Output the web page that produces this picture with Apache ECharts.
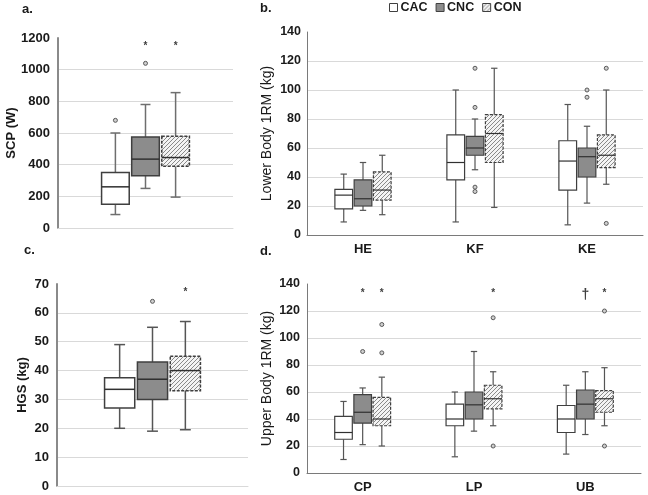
<!DOCTYPE html>
<html><head><meta charset="utf-8">
<script src="https://cdn.jsdelivr.net/npm/echarts@6/dist/echarts.min.js"></script>
<style>html,body{margin:0;padding:0;background:#fff}#c{width:648px;height:495px}</style>
</head><body><div id="c"></div>
<script>
// ---------- DATA ----------
const groups = ['CAC', 'CNC', 'CON'];
// box stats per category: [low whisker, Q1, median, Q3, high whisker]
// Panel a: SCP (W)
const scpCats = [''];
const scpCAC = [[85, 150, 260, 350, 600]];
const scpCNC = [[250, 330, 435, 575, 780]];
const scpCON = [[195, 390, 445, 580, 855]];
const scpOutCAC = [[0, 680]];
const scpOutCNC = [[0, 1040]];
const scpOutCON = [];
const scpStarCNC = [[0, 1160]];
const scpStarCON = [[0, 1160]];
const scpTicks = [0, 1200, 200];

// Panel b: Lower Body 1RM (kg)
const lowerCats = ['HE', 'KF', 'KE'];
const lowerCAC = [[9, 18, 27.5, 31.5, 42], [9, 38, 50, 69, 100], [7, 31, 51, 65, 90]];
const lowerCNC = [[17, 20, 25, 38, 50], [45, 55, 60, 68, 80], [22, 40, 54, 60, 75]];
const lowerCON = [[14, 24, 31, 43.5, 55], [19, 50, 70, 83, 115], [35, 46.5, 55, 69, 100]];
const lowerOutCAC = [];
const lowerOutCNC = [[1, 115], [1, 88], [1, 33], [1, 30], [2, 100], [2, 95]];
const lowerOutCON = [[2, 115], [2, 8]];
const lowerTicks = [0, 140, 20];

// Panel c: HGS (kg)
const hgsCats = [''];
const hgsCAC = [[20, 27, 33.5, 37.5, 49]];
const hgsCNC = [[19, 30, 37, 43, 55]];
const hgsCON = [[19.5, 33, 40, 45, 57]];
const hgsOutCAC = [];
const hgsOutCNC = [[0, 64]];
const hgsOutCON = [];
const hgsStarCON = [[0, 67.8]];
const hgsTicks = [0, 70, 10];

// Panel d: Upper Body 1RM (kg)
const upperCats = ['CP', 'LP', 'UB'];
const upperCAC = [[10, 25, 30, 42, 53], [12, 35, 40, 51, 60], [14, 30, 40, 50, 65]];
const upperCNC = [[21, 37, 45, 58, 63], [31, 40, 50.5, 60, 90], [28.5, 40, 51, 61.5, 75]];
const upperCON = [[20, 35, 40, 56, 71], [35, 47.5, 55, 65, 75], [35, 45, 55, 61, 78]];
const upperOutCAC = [];
const upperOutCNC = [[0, 90]];
const upperOutCON = [[0, 110], [0, 89], [1, 115], [1, 20], [2, 120], [2, 20]];
const upperStarCNC = [[0, 134.5]];
const upperStarCON = [[0, 134.5], [1, 134.5], [2, 134.5]];
const upperDaggerCNC = [[2, 132]];
const upperTicks = [0, 140, 20];

// ---------- STYLE / LAYOUT ----------
const FONT = 'Liberation Sans, Arial, Helvetica, sans-serif';
const OFF = 0.172;   // box offset as fraction of category band
const BW = 0.158;    // box width as fraction of category band

function hatchCanvas() {
  const c = document.createElement('canvas');
  c.width = 4; c.height = 4;
  const x = c.getContext('2d');
  x.fillStyle = '#f4f4f4'; x.fillRect(0, 0, 4, 4);
  x.strokeStyle = '#8a8a8a'; x.lineWidth = 1;
  x.beginPath();
  x.moveTo(0, 4); x.lineTo(4, 0);
  x.moveTo(-1, 1); x.lineTo(1, -1);
  x.moveTo(3, 5); x.lineTo(5, 3);
  x.stroke();
  return c;
}
const hatch = { image: hatchCanvas(), repeat: 'repeat' };
const fills = ['#ffffff', '#8c8c8c', hatch];
const dashes = [null, null, [3, 1.5]];

function boxRender(gi, lw, whiskColor) {
  return function (params, api) {
    const c = api.value(0);
    const band = api.size([1, 0])[0];
    const cx = api.coord([c, 0])[0] + (gi - 1) * band * OFF;
    const w = band * BW, cap = w * 0.36;
    const yLo = api.coord([c, api.value(1)])[1];
    const yQ1 = api.coord([c, api.value(2)])[1];
    const yMed = api.coord([c, api.value(3)])[1];
    const yQ3 = api.coord([c, api.value(4)])[1];
    const yHi = api.coord([c, api.value(5)])[1];
    const ws = { stroke: whiskColor, lineWidth: lw };
    return {
      type: 'group', children: [
        { type: 'line', shape: { x1: cx, y1: yLo, x2: cx, y2: yQ1 }, style: ws },
        { type: 'line', shape: { x1: cx, y1: yQ3, x2: cx, y2: yHi }, style: ws },
        { type: 'line', shape: { x1: cx - cap / 2, y1: yLo, x2: cx + cap / 2, y2: yLo }, style: ws },
        { type: 'line', shape: { x1: cx - cap / 2, y1: yHi, x2: cx + cap / 2, y2: yHi }, style: ws },
        { type: 'rect', shape: { x: cx - w / 2, y: yQ3, width: w, height: yQ1 - yQ3 },
          style: { fill: fills[gi], stroke: '#3f3f3f', lineWidth: lw, lineDash: dashes[gi] } },
        { type: 'line', shape: { x1: cx - w / 2, y1: yMed, x2: cx + w / 2, y2: yMed },
          style: { stroke: '#303030', lineWidth: lw } }
      ]
    };
  };
}
function pointRender(gi) {
  return function (params, api) {
    const band = api.size([1, 0])[0];
    const p = api.coord([api.value(0), api.value(1)]);
    return { type: 'circle', shape: { cx: p[0] + (gi - 1) * band * OFF, cy: p[1], r: 2 },
      style: { fill: '#cfcfcf', stroke: '#5a5a5a', lineWidth: 1 } };
  };
}
function markRender(gi, ch, size, dy) {
  return function (params, api) {
    const band = api.size([1, 0])[0];
    const p = api.coord([api.value(0), api.value(1)]);
    return { type: 'text', x: p[0] + (gi - 1) * band * OFF, y: p[1] + dy,
      style: { text: ch, fill: '#404040', font: 'bold ' + size + 'px ' + FONT, align: 'center', verticalAlign: 'middle' } };
  };
}

const panels = [
  { grid: { left: 58, top: 38, width: 175, height: 190 }, cats: scpCats, ticks: scpTicks,
    boxes: [scpCAC, scpCNC, scpCON], outs: [scpOutCAC, scpOutCNC, scpOutCON],
    name: 'SCP (W)', nameGap: 40, nameBold: true, nameSize: 13, lblSize: 13, lblMargin: 8,
    yLine: { color: '#8a8a8a', width: 2 }, xLine: { color: '#d9d9d9', width: 1 }, lw: 1.5, wc: '#6e6e6e' },
  { grid: { left: 307, top: 32, width: 336, height: 203 }, cats: lowerCats, ticks: lowerTicks,
    boxes: [lowerCAC, lowerCNC, lowerCON], outs: [lowerOutCAC, lowerOutCNC, lowerOutCON],
    name: 'Lower Body 1RM (kg)', nameGap: 33, nameBold: false, nameSize: 14, lblSize: 12.5, lblMargin: 6,
    yLine: { color: '#7a7a7a', width: 1 }, xLine: { color: '#7a7a7a', width: 1 }, lw: 1.2, wc: '#555555' },
  { grid: { left: 57, top: 284, width: 191, height: 202 }, cats: hgsCats, ticks: hgsTicks,
    boxes: [hgsCAC, hgsCNC, hgsCON], outs: [hgsOutCAC, hgsOutCNC, hgsOutCON],
    name: 'HGS (kg)', nameGap: 28, nameBold: true, nameSize: 13, lblSize: 13, lblMargin: 8,
    yLine: { color: '#8a8a8a', width: 2 }, xLine: { color: '#d9d9d9', width: 1 }, lw: 1.5, wc: '#555555' },
  { grid: { left: 307, top: 284, width: 334, height: 189 }, cats: upperCats, ticks: upperTicks,
    boxes: [upperCAC, upperCNC, upperCON], outs: [upperOutCAC, upperOutCNC, upperOutCON],
    name: 'Upper Body 1RM (kg)', nameGap: 33, nameBold: false, nameSize: 14, lblSize: 12.5, lblMargin: 7,
    yLine: { color: '#7a7a7a', width: 1 }, xLine: { color: '#7a7a7a', width: 1 }, lw: 1.2, wc: '#555555' }
];

const grids = [], xAxes = [], yAxes = [], series = [];
panels.forEach((p, pi) => {
  grids.push(Object.assign({ containLabel: false }, p.grid));
  xAxes.push({
    gridIndex: pi, type: 'category', data: p.cats,
    axisLine: { show: true, lineStyle: p.xLine }, axisTick: { show: false },
    axisLabel: { show: true, fontFamily: FONT, fontWeight: 'bold', fontSize: 13, color: '#1a1a1a', margin: 8 },
    splitLine: { show: false }
  });
  yAxes.push({
    gridIndex: pi, type: 'value', min: p.ticks[0], max: p.ticks[1], interval: p.ticks[2],
    axisLine: { show: true, lineStyle: p.yLine }, axisTick: { show: false },
    axisLabel: { fontFamily: FONT, fontWeight: 'bold', fontSize: p.lblSize, color: '#1a1a1a', margin: p.lblMargin,
      formatter: v => String(v) },
    splitLine: { show: true, showMaxLine: false, lineStyle: { color: '#d9d9d9', width: 1 } },
    name: p.name, nameLocation: 'middle', nameGap: p.nameGap, nameMoveOverlap: false,
    nameTextStyle: { fontFamily: FONT, fontWeight: p.nameBold ? 'bold' : 'normal', fontSize: p.nameSize, color: '#1a1a1a' }
  });
  groups.forEach((g, gi) => {
    series.push({
      name: g, type: 'custom', xAxisIndex: pi, yAxisIndex: pi,
      renderItem: boxRender(gi, p.lw, p.wc),
      encode: { x: 0, y: [1, 2, 3, 4, 5] },
      data: p.boxes[gi].map((s, ci) => [ci].concat(s)),
      z: 2
    });
    if (p.outs[gi].length) {
      series.push({
        name: g + ' outliers', type: 'custom', xAxisIndex: pi, yAxisIndex: pi,
        renderItem: pointRender(gi), encode: { x: 0, y: 1 }, data: p.outs[gi], z: 3
      });
    }
  });
});
function addMarks(pi, gi, data, ch, size, dy) {
  series.push({ name: groups[gi] + ' mark', type: 'custom', xAxisIndex: pi, yAxisIndex: pi,
    renderItem: markRender(gi, ch, size, dy), encode: { x: 0, y: 1 }, data: data, z: 4 });
}
addMarks(0, 1, scpStarCNC, '*', 10, 2);
addMarks(0, 2, scpStarCON, '*', 10, 2);
addMarks(2, 2, hgsStarCON, '*', 10, 2);
addMarks(3, 1, upperStarCNC, '*', 10, 2);
addMarks(3, 2, upperStarCON, '*', 10, 2);
addMarks(3, 1, upperDaggerCNC, '\u2020', 14, 0);

const lbl = { fontFamily: FONT, fontSize: 13, fontWeight: 'bold', color: '#1a1a1a' };
const chart = echarts.init(document.getElementById('c'), null, { renderer: 'canvas' });
chart.setOption({
  animation: false,
  backgroundColor: '#ffffff',
  title: [
    { text: 'a.', left: 22, top: 3, padding: 0, textStyle: lbl },
    { text: 'b.', left: 260, top: 2, padding: 0, textStyle: lbl },
    { text: 'c.', left: 24, top: 244, padding: 0, textStyle: lbl },
    { text: 'd.', left: 260, top: 245, padding: 0, textStyle: lbl }
  ],
  legend: {
    top: 1, left: 389, padding: 0, itemWidth: 8, itemHeight: 8, itemGap: 8, icon: 'rect',
    selectedMode: false,
    textStyle: { fontFamily: FONT, fontSize: 12.5, fontWeight: 'bold', color: '#1a1a1a', padding: [0, 0, 0, -2] },
    data: [
      { name: 'CAC', itemStyle: { color: '#ffffff', borderColor: '#404040', borderWidth: 1 } },
      { name: 'CNC', itemStyle: { color: '#8c8c8c', borderColor: '#404040', borderWidth: 1 } },
      { name: 'CON', itemStyle: { color: hatch, borderColor: '#404040', borderWidth: 1 } }
    ]
  },
  grid: grids, xAxis: xAxes, yAxis: yAxes, series: series
});
</script></body></html>
